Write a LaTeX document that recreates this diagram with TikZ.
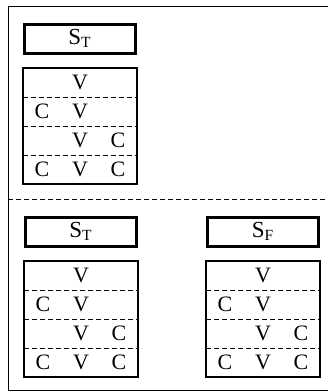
\documentclass[tikz,border=0pt]{standalone}
\usepackage{fontspec}
\setmainfont{Liberation Serif}
\tikzset{
  frame/.style={line width=0.9pt},
  titlebox/.style={draw, line width=3pt, minimum width=111pt, minimum height=29pt, inner sep=0pt, font=\fontsize{23}{23}\selectfont},
  tablebox/.style={line width=1.2pt},
  rowsep/.style={dash pattern=on 5pt off 3pt, line width=1pt},
  letter/.style={font=\fontsize{22}{22}\selectfont, inner sep=0pt, anchor=center},
  cvtable/.pic={
    \draw[tablebox] (0,0) rectangle (114,116);
    \draw[rowsep] (0,29) -- (114,29);
    \draw[rowsep] (0,58) -- (114,58);
    \draw[rowsep] (0,87) -- (114,87);
    \node[letter] (-a2) at (57,14.5) {V};
    \node[letter] (-b1) at (19,43.5) {C};
    \node[letter] (-b2) at (57,43.5) {V};
    \node[letter] (-c2) at (57,72.5) {V};
    \node[letter] (-c3) at (95,72.5) {C};
    \node[letter] (-d1) at (19,101.5) {C};
    \node[letter] (-d2) at (57,101.5) {V};
    \node[letter] (-d3) at (95,101.5) {C};
  }
}
\newcommand{\subT}[1]{\raisebox{-3.3pt}{\fontsize{15.5}{15.5}\selectfont #1}}
\begin{document}
\begin{tikzpicture}[x=1pt,y=-1pt]
\useasboundingbox (0,0) rectangle (328,392);
\draw[frame] (8,6) rectangle (331,390);
\draw[rowsep] (8,199) -- (328,199);
\node[titlebox] (st1) at (79.5,38.5) {S\subT{T}};
\pic (tab1) at (23,68) {cvtable};
\node[titlebox] (st2) at (80.5,231.5) {S\subT{T}};
\pic (tab2) at (24,261) {cvtable};
\node[titlebox] (sf) at (262.5,231.5) {S\subT{F}};
\pic (tab3) at (206,261) {cvtable};
\end{tikzpicture}
\end{document}
